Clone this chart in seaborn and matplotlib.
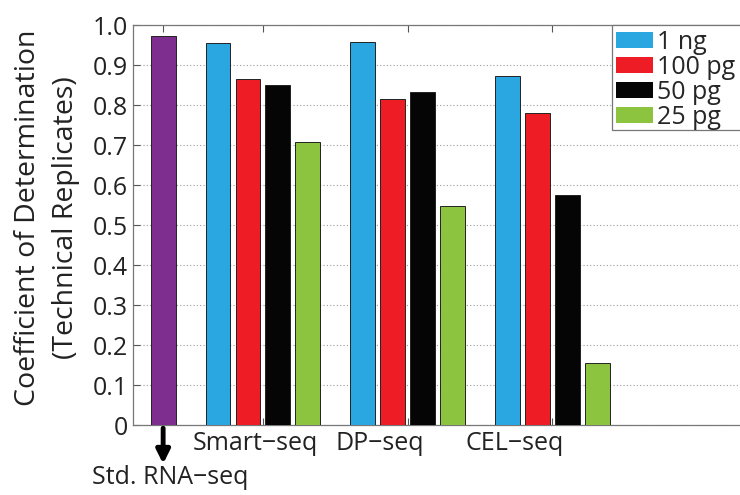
"""
Coefficient of determination between technical replicates, per library prep.
"""
import matplotlib
matplotlib.use("Agg")
import matplotlib.pyplot as plt
import matplotlib.patches as mpatches
import matplotlib.transforms as mtransforms
import pandas as pd
import seaborn as sns

# ─── Data ─────────────────────────────────────────────────────────────────────
METHODS = ["Smart−seq", "DP−seq", "CEL−seq"]
AMOUNTS = ["1 ng", "100 pg", "50 pg", "25 pg"]
SMART_SEQ = [0.956, 0.865, 0.849, 0.708]
DP_SEQ = [0.958, 0.814, 0.833, 0.547]
CEL_SEQ = [0.872, 0.781, 0.575, 0.155]
STD_LABEL = "Std. RNA−seq"
STD_VALUE = 0.972
Y_TICKS = [0, 0.1, 0.2, 0.3, 0.4, 0.5, 0.6, 0.7, 0.8, 0.9, 1.0]

# ─── Style ────────────────────────────────────────────────────────────────────
COLORS = {"1 ng": "#2AA7E0", "100 pg": "#EE1C25", "50 pg": "#050505",
          "25 pg": "#8CC43F", "Std": "#7D2E8E"}
GROUP_X = {"Smart−seq": 2.0, "DP−seq": 3.0, "CEL−seq": 4.0}
LABEL_X = {"Smart−seq": 1.945, "DP−seq": 2.81, "CEL−seq": 3.74}
STD_X = 1.31
BAR_STEP = 0.207
FS = 18

sns.set_theme(style="ticks")
plt.rcParams["font.family"] = ["Open Sans", "DejaVu Sans"]

rows = [{"pos": STD_X, "value": STD_VALUE, "sample": "Std"}]
for method, vals in zip(METHODS, [SMART_SEQ, DP_SEQ, CEL_SEQ]):
    for i, (amt, v) in enumerate(zip(AMOUNTS, vals)):
        rows.append({"pos": GROUP_X[method] + (i - 1.5) * BAR_STEP,
                     "value": v, "sample": amt})
df = pd.DataFrame(rows)

fig = plt.figure(figsize=(7.4, 4.95), dpi=100, facecolor="white")
ax = fig.add_axes([0.18, 0.1414, 0.825, 0.808])

sns.barplot(data=df, x="pos", y="value", hue="sample", palette=COLORS,
            native_scale=True, dodge=False, width=0.83, legend=False,
            saturation=1, edgecolor="#222222", linewidth=0.7, ax=ax, zorder=3)

ax.set_xlim(1.103, 5.324)
ax.set_ylim(0, 1.0)
ax.set_yticks(Y_TICKS)
ax.set_yticklabels(["0"] + [f"{t:.1f}" for t in Y_TICKS[1:]], fontsize=FS)
ax.set_xticks([STD_X] + [GROUP_X[m] for m in METHODS])
ax.set_xticklabels([])
ax.set_xlabel("")
ax.set_ylabel("")
ax.tick_params(direction="in", length=5, width=0.8, top=True, right=False,
               colors="#555555", labelcolor="#222222", pad=4)
for s in ax.spines.values():
    s.set_color("#777777")
    s.set_linewidth(0.9)
ax.spines["right"].set_visible(False)
ax.yaxis.grid(True, linestyle=(0, (1, 2)), color="#999999", linewidth=0.8, zorder=0)
ax.set_axisbelow(True)

# group labels under the axis
trans = mtransforms.blended_transform_factory(ax.transData, ax.transAxes)
for method in METHODS:
    ax.text(LABEL_X[method], -0.045, method, transform=trans, ha="center",
            va="center", fontsize=FS, color="#222222")

ax.annotate("", xy=(STD_X, -0.097), xytext=(STD_X, -0.008),
            xycoords=trans, textcoords=trans, annotation_clip=False,
            arrowprops=dict(arrowstyle="-|>", color="black", lw=3.5,
                            mutation_scale=20, shrinkA=0, shrinkB=0))
fig.text(170 / 740, 1 - 478 / 495, STD_LABEL, ha="center", va="center",
         fontsize=FS, color="#222222")

fig.text(47 / 740, 1 - 218 / 495,
         "Coefficient of Determination\n(Technical Replicates)",
         rotation=90, ha="center", va="center", fontsize=20.5,
         color="#222222", linespacing=1.5, multialignment="center")

# legend: frame runs off the right edge, as in the original
handles = [mpatches.Patch(facecolor=COLORS[a], edgecolor="none", label=a)
           for a in AMOUNTS]
frame = mpatches.Rectangle((612 / 740, 1 - 130 / 495), 0.2, 105 / 495,
                           transform=fig.transFigure, facecolor="white",
                           edgecolor="#777777", linewidth=0.9, zorder=5)
fig.patches.append(frame)
leg = fig.legend(handles=handles, loc="upper left",
                 bbox_to_anchor=(612 / 740, 1 - 26 / 495),
                 fontsize=FS, frameon=False, borderpad=0.15,
                 handlelength=1.5, handleheight=0.65, handletextpad=0.15,
                 labelspacing=0.0, borderaxespad=0)
leg.set_zorder(6)

fig.savefig("out.png", dpi=100, facecolor="white")
